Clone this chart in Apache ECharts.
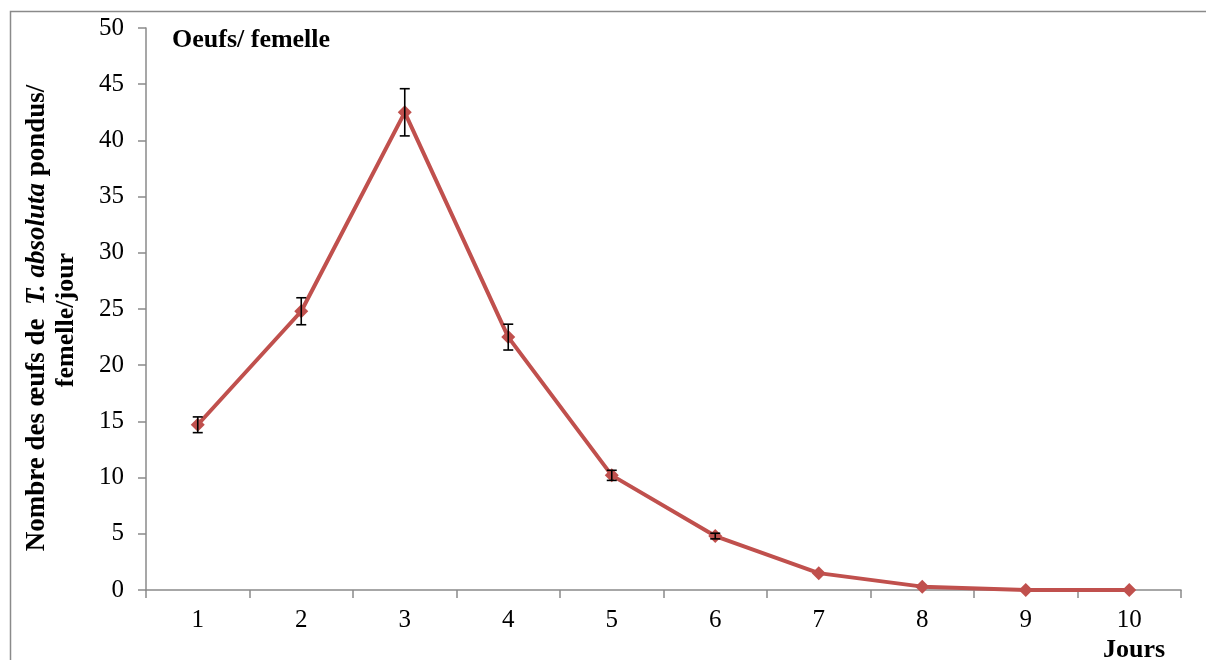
<!DOCTYPE html>
<html><head><meta charset="utf-8">
<script src="https://cdn.jsdelivr.net/npm/echarts@6/dist/echarts.min.js"></script>
<style>html,body{margin:0;padding:0;background:#fff}#c{width:1206px;height:660px}</style>
</head><body><div id="c"></div>
<script>
var categories = ['1','2','3','4','5','6','7','8','9','10'];
var values = [14.7, 24.8, 42.5, 22.5, 10.2, 4.8, 1.5, 0.3, 0, 0];
var errors = [0.7, 1.2, 2.1, 1.15, 0.45, 0.25, 0, 0, 0, 0];
var yTicks = [0, 5, 10, 15, 20, 25, 30, 35, 40, 45, 50];

var chart = echarts.init(document.getElementById('c'));
var font = '"Liberation Serif", "Times New Roman", serif';
var errData = values.map(function (v, i) { return [i, v - errors[i], v + errors[i]]; });

chart.setOption({
  animation: false,
  graphic: [
    { type: 'rect', shape: { x: 10.5, y: 11.5, width: 1200, height: 660 }, style: { fill: 'none', stroke: '#8a8a8a', lineWidth: 1.5 } },
    { type: 'text', x: 172, y: 40, style: { text: 'Oeufs/ femelle', font: 'bold 26px ' + font, fill: '#000', verticalAlign: 'middle' } },
    { type: 'text', x: 1103, y: 650, style: { text: 'Jours', font: 'bold 26px ' + font, fill: '#000', verticalAlign: 'middle' } },
    { type: 'text', x: 37, y: 318, rotation: Math.PI / 2, style: {
        text: '{b|Nombre des œufs de  }{i|T. absoluta}{b| pondus/}',
        align: 'center', verticalAlign: 'middle',
        rich: { b: { font: 'bold 27px ' + font, fill: '#000' }, i: { font: 'italic bold 27px ' + font, fill: '#000' } }
      } },
    { type: 'text', x: 66, y: 320, rotation: Math.PI / 2, style: {
        text: 'femelle/jour', align: 'center', verticalAlign: 'middle', font: 'bold 26px ' + font, fill: '#000' } }
  ],
  grid: { left: 146, right: 25, top: 28, bottom: 70, containLabel: false },
  xAxis: {
    type: 'category', data: categories, boundaryGap: true,
    axisLine: { lineStyle: { color: '#8a8a8a', width: 1.5 } },
    axisTick: { show: true, length: 8, alignWithLabel: false, lineStyle: { color: '#8a8a8a', width: 1.5 } },
    axisLabel: { color: '#000', fontFamily: font, fontSize: 25, margin: 18 }
  },
  yAxis: {
    type: 'value', min: 0, max: 50, interval: 5,
    axisLine: { show: true, lineStyle: { color: '#8a8a8a', width: 1.5 } },
    axisTick: { show: true, length: 8, inside: false, lineStyle: { color: '#8a8a8a', width: 1.5 } },
    axisLabel: { color: '#000', fontFamily: font, fontSize: 25, margin: 22,
      formatter: function (v) { return yTicks.indexOf(v) >= 0 ? String(v) : ''; } },
    splitLine: { show: false }
  },
  series: [
    {
      type: 'custom', z: 5,
      data: errData,
      renderItem: function (params, api) {
        var lo = api.coord([api.value(0), api.value(1)]);
        var hi = api.coord([api.value(0), api.value(2)]);
        if (Math.abs(hi[1] - lo[1]) < 1) return null;
        var x = lo[0], w = 5;
        var st = { stroke: '#000', lineWidth: 1.6 };
        return { type: 'group', children: [
          { type: 'line', shape: { x1: x, y1: lo[1], x2: x, y2: hi[1] }, style: st },
          { type: 'line', shape: { x1: x - w, y1: lo[1], x2: x + w, y2: lo[1] }, style: st },
          { type: 'line', shape: { x1: x - w, y1: hi[1], x2: x + w, y2: hi[1] }, style: st }
        ] };
      }
    },
    {
      type: 'line', data: values, z: 4,
      symbol: 'diamond', symbolSize: 14,
      lineStyle: { color: '#C0504D', width: 4 },
      itemStyle: { color: '#C0504D' }
    }
  ]
});
</script></body></html>
